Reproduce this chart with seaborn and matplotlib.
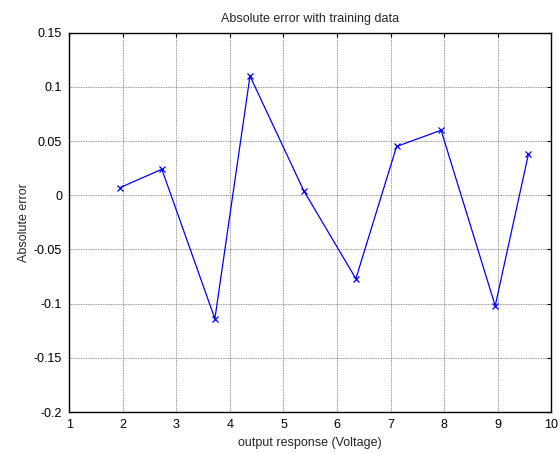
import matplotlib
matplotlib.use("Agg")
import matplotlib.pyplot as plt
import seaborn as sns
import pandas as pd

# Training samples: output response vs. absolute error
voltage = [1.95, 2.73, 3.72, 4.375, 5.38, 6.35, 7.11, 7.94, 8.95, 9.57]
abs_error = [0.007, 0.024, -0.114, 0.110, 0.004, -0.077, 0.045, 0.060, -0.102, 0.038]

x_ticks = [1, 2, 3, 4, 5, 6, 7, 8, 9, 10]
y_ticks = [-0.2, -0.15, -0.1, -0.05, 0, 0.05, 0.1, 0.15]
y_tick_labels = ["-0.2", "-0.15", "-0.1", "-0.05", "0", "0.05", "0.1", "0.15"]

sns.set_theme(style="white")
plt.rcParams["font.family"] = ["Liberation Sans", "DejaVu Sans"]
plt.rcParams["font.size"] = 9

df = pd.DataFrame({"voltage": voltage, "error": abs_error})

fig = plt.figure(figsize=(5.6, 4.54), dpi=100)
ax = fig.add_axes([0.1234, 0.0925, 0.8614, 0.8355])

sns.lineplot(data=df, x="voltage", y="error", ax=ax, color="blue",
             marker="x", markersize=4, markeredgewidth=0.9,
             markeredgecolor="blue", linewidth=0.9, sort=False)

ax.set_xlim(1, 10)
ax.set_ylim(-0.2, 0.15)
ax.set_xticks(x_ticks)
ax.set_xticklabels([str(t) for t in x_ticks])
ax.set_yticks(y_ticks)
ax.set_yticklabels(y_tick_labels)

ax.grid(True, color="#505050", linestyle=(0, (1, 1)), linewidth=0.6, alpha=0.8)
ax.tick_params(direction="in", length=3, width=0.8, colors="black",
               labelsize=9, top=True, right=True, pad=5)
for s in ax.spines.values():
    s.set_color("black")
    s.set_linewidth(1.0)

ax.set_title("Absolute error with training data", fontsize=9, pad=8)
ax.set_xlabel("output response (Voltage)", fontsize=9, labelpad=4)
ax.set_ylabel("Absolute error", fontsize=9, labelpad=3)

fig.savefig("out.png", dpi=100)
